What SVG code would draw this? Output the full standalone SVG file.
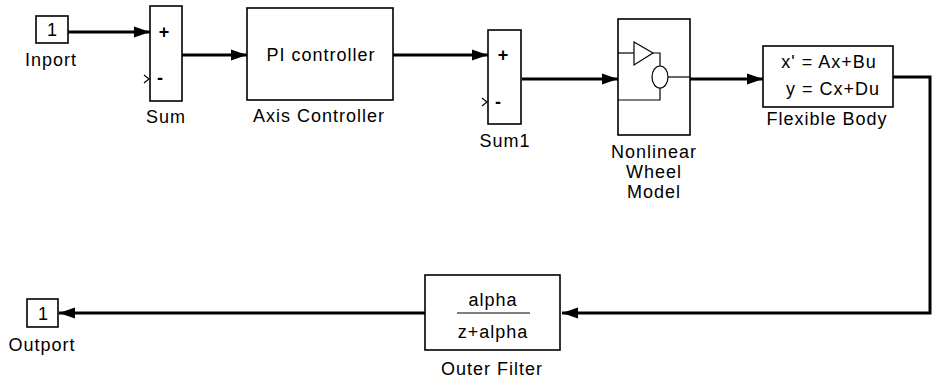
<svg xmlns="http://www.w3.org/2000/svg" width="933" height="379" viewBox="0 0 933 379">
<style>
.blk{fill:#fff;stroke:#000;stroke-width:1.6}
.ico{fill:none;stroke:#000;stroke-width:1.2}
.lbl{font-family:"Liberation Sans",Arial,sans-serif;font-size:18px;letter-spacing:1px;fill:#000;text-anchor:middle}
.sgn{font-family:"Liberation Sans",Arial,sans-serif;font-size:18px;fill:#000;text-anchor:middle}
.wire{fill:none;stroke:#000;stroke-width:3}
</style>
<defs>
<marker id="arr" markerUnits="userSpaceOnUse" markerWidth="16" markerHeight="12" refX="16" refY="6" orient="auto">
<path d="M0,0.5 L16,6 L0,11.5 z" fill="#000"/>
</marker>
</defs>
<g id="connectors">
<line class="wire" x1="68" y1="32" x2="150" y2="32" marker-end="url(#arr)"/>
<line class="wire" x1="182" y1="55" x2="247" y2="55" marker-end="url(#arr)"/>
<line class="wire" x1="393" y1="55" x2="488" y2="55" marker-end="url(#arr)"/>
<line class="wire" x1="522" y1="79" x2="618" y2="79" marker-end="url(#arr)"/>
<line class="wire" x1="690" y1="79" x2="763" y2="79" marker-end="url(#arr)"/>
<polyline class="wire" points="893,77 930,77 930,313 562,313" marker-end="url(#arr)"/>
<line class="wire" x1="425" y1="313" x2="59" y2="313" marker-end="url(#arr)"/>
</g>
<g id="inport">
<rect class="blk" x="36" y="16" width="32" height="27"/>
<text class="sgn" x="52" y="36">1</text>
<text class="lbl" x="51" y="66">Inport</text>
</g>
<g id="sum">
<rect class="blk" x="150" y="6" width="32" height="95"/>
<text class="sgn" x="164" y="38" font-weight="bold">+</text>
<text class="sgn" x="160" y="84" font-weight="bold">-</text>
<polyline class="ico" points="144,75 149,79 144,83"/>
<text class="lbl" x="166" y="123">Sum</text>
</g>
<g id="axis-controller">
<rect class="blk" x="247" y="8" width="146" height="92"/>
<text class="lbl" x="321" y="61">PI controller</text>
<text class="lbl" x="319" y="122">Axis Controller</text>
</g>
<g id="sum1">
<rect class="blk" x="488" y="30" width="33" height="94"/>
<text class="sgn" x="503" y="61" font-weight="bold">+</text>
<text class="sgn" x="498" y="108" font-weight="bold">-</text>
<polyline class="ico" points="482,98 487,102 482,106"/>
<text class="lbl" x="505" y="147">Sum1</text>
</g>
<g id="nonlinear-wheel-model">
<rect class="blk" x="618" y="19" width="72" height="116"/>
<polyline class="ico" points="618,53 634,53"/>
<polygon class="ico" points="634,42 653,53 634,65"/>
<polyline class="ico" points="653,53 660,53 660,66"/>
<ellipse class="ico" cx="660" cy="77" rx="8" ry="11"/>
<polyline class="ico" points="668,77 690,77"/>
<polyline class="ico" points="660,88 660,100 618,100"/>
<text class="lbl" x="654" y="158">Nonlinear</text>
<text class="lbl" x="654" y="178">Wheel</text>
<text class="lbl" x="654" y="198">Model</text>
</g>
<g id="flexible-body">
<rect class="blk" x="763" y="46" width="130" height="61"/>
<text class="lbl" x="829" y="68">x' = Ax+Bu</text>
<text class="lbl" x="833" y="95">y = Cx+Du</text>
<text class="lbl" x="827" y="125">Flexible Body</text>
</g>
<g id="outer-filter">
<rect class="blk" x="425" y="275" width="135" height="75"/>
<text class="lbl" x="493" y="306">alpha</text>
<line class="ico" x1="457" y1="313" x2="530" y2="313"/>
<text class="lbl" x="493" y="338">z+alpha</text>
<text class="lbl" x="492" y="375">Outer Filter</text>
</g>
<g id="outport">
<rect class="blk" x="27" y="299" width="31" height="28"/>
<text class="sgn" x="43" y="320">1</text>
<text class="lbl" x="42" y="351">Outport</text>
</g>
</svg>
